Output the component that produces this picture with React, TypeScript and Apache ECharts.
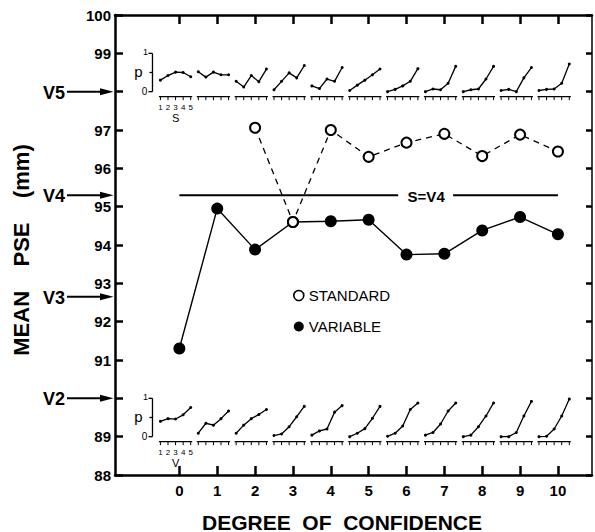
import React, { useEffect, useRef } from "react";
import * as echarts from "echarts";

// ---------- data ----------
const confidenceLevels = [0, 1, 2, 3, 4, 5, 6, 7, 8, 9, 10];
const hiddenYLabels = [90, 98];
const standardLevels = [2, 3, 4, 5, 6, 7, 8, 9, 10];
const standardPSE = [97.06, 94.6, 97.0, 96.3, 96.67, 96.9, 96.32, 96.88, 96.44];
const variablePSE = [91.3, 94.95, 93.88, 94.6, 94.62, 94.66, 93.75, 93.77, 94.38, 94.73, 94.28];
const referenceNames = ["V5", "V4", "V3", "V2"];
const referenceLevels = [98, 95.3, 92.65, 90];
const standardRefLabel = "S=V4";
const standardRefLevel = 95.3;
const stimulusSteps = [1, 2, 3, 4, 5];
const insetRowLetters = ["S", "V"];
const insetBaseLevels = [98, 89]; // p = 0 level of the inset rows (top: S, bottom: V)
const pLabels = ["p", "1", "0"];
// proportion curves, top row (standard stimuli S1..S5)
const standardCurves = [
  [0.3, 0.42, 0.51, 0.5, 0.39],
  [0.52, 0.38, 0.51, 0.44, 0.44],
  [0.27, 0.12, 0.42, 0.26, 0.59],
  [0.05, 0.27, 0.49, 0.36, 0.68],
  [0.15, 0.08, 0.33, 0.27, 0.63],
  [0.03, 0.17, 0.3, 0.44, 0.59],
  [0.0, 0.06, 0.15, 0.27, 0.6],
  [0.0, 0.07, 0.05, 0.22, 0.66],
  [0.0, 0.05, 0.07, 0.33, 0.66],
  [0.03, 0.06, 0.0, 0.36, 0.63],
  [0.03, 0.06, 0.07, 0.22, 0.72],
];
// proportion curves, bottom row (variable stimuli V1..V5)
const variableCurves = [
  [0.4, 0.47, 0.46, 0.57, 0.76],
  [0.09, 0.35, 0.3, 0.47, 0.67],
  [0.09, 0.3, 0.47, 0.58, 0.71],
  [0.03, 0.07, 0.26, 0.52, 0.79],
  [0.04, 0.15, 0.2, 0.64, 0.81],
  [0.0, 0.09, 0.21, 0.48, 0.79],
  [0.01, 0.09, 0.28, 0.71, 0.88],
  [0.04, 0.11, 0.33, 0.67, 0.88],
  [0.0, 0.04, 0.26, 0.54, 0.88],
  [0.0, 0.0, 0.11, 0.54, 0.92],
  [0.0, 0.01, 0.2, 0.54, 0.98],
];

// ---------- layout / style ----------
const FONT = '"Liberation Sans", Arial, Helvetica, sans-serif';
const X_MIN = -1.7;
const X_MAX = 10.9;
const STEP_W = 0.2;
const stepX = (c: number, s: number) => c + (s - 3.5) * STEP_W;
const BRACKET_X = -0.71;

function insetSeries(curves: number[][], base: number, tag: string) {
  return curves.map((vals, i) => ({
    type: "line",
    name: `${tag}-${i}`,
    data: vals.map((p, k) => [stepX(confidenceLevels[i], stimulusSteps[k]), base + p]),
    symbol: "circle",
    symbolSize: 3,
    itemStyle: { color: "#000" },
    lineStyle: { color: "#000", width: 1.3 },
    silent: true,
    z: 3,
  }));
}

export default function App() {
  const ref = useRef<HTMLDivElement>(null);
  useEffect(() => {
    document.body.style.margin = "0";
    const chart = echarts.init(ref.current!, undefined, { renderer: "svg" });

    const tickRowData: number[][] = [];
    insetBaseLevels.forEach((b, r) => confidenceLevels.forEach((c) => tickRowData.push([c, b, r])));

    const option: any = {
      animation: false,
      backgroundColor: "#fff",
      grid: { left: 115, right: 3, top: 15, bottom: 57 },
      legend: {
        orient: "vertical",
        left: 288,
        top: 283,
        itemWidth: 10,
        itemHeight: 10,
        itemGap: 16,
        selectedMode: false,
        textStyle: { fontSize: 15, fontFamily: FONT, color: "#000" },
        data: [
          { name: "STANDARD", icon: "circle", itemStyle: { color: "#fff", borderColor: "#000", borderWidth: 1.6 } },
          { name: "VARIABLE", icon: "circle", itemStyle: { color: "#000", borderWidth: 0 } },
        ],
      },
      xAxis: [
        {
          type: "value",
          position: "bottom",
          min: X_MIN,
          max: X_MAX,
          axisLine: { onZero: false, lineStyle: { color: "#000", width: 2.5 } },
          axisTick: { inside: true, length: 9, customValues: confidenceLevels, lineStyle: { color: "#000", width: 2.5 } },
          axisLabel: {
            customValues: confidenceLevels,
            color: "#000",
            fontSize: 15,
            fontWeight: "bold",
            fontFamily: FONT,
            margin: 8,
          },
          splitLine: { show: false },
        },
        {
          type: "value",
          position: "top",
          min: X_MIN,
          max: X_MAX,
          axisLine: { onZero: false, lineStyle: { color: "#000", width: 2.5 } },
          axisTick: { inside: true, length: 9, customValues: confidenceLevels, lineStyle: { color: "#000", width: 2.5 } },
          axisLabel: { show: false },
          splitLine: { show: false },
        },
      ],
      yAxis: [
        {
          type: "value",
          position: "left",
          min: 88,
          max: 100,
          interval: 1,
          axisLine: { show: true, onZero: false, lineStyle: { color: "#000", width: 2.5 } },
          axisTick: { show: true, inside: true, length: 8, lineStyle: { color: "#000", width: 2.5 } },
          axisLabel: {
            color: "#000",
            fontSize: 15,
            fontWeight: "bold",
            fontFamily: FONT,
            margin: 4,
            formatter: (v: number) => (hiddenYLabels.includes(v) ? "" : String(v)),
          },
          splitLine: { show: false },
        },
        {
          type: "value",
          position: "right",
          min: 88,
          max: 100,
          interval: 1,
          axisLine: { show: true, onZero: false, lineStyle: { color: "#000", width: 1.5 } },
          axisTick: { show: true, inside: true, length: 6, lineStyle: { color: "#000", width: 2.5 } },
          axisLabel: { show: false },
          splitLine: { show: false },
        },
      ],
      graphic: [
        {
          type: "text",
          x: 21,
          y: 250,
          rotation: Math.PI / 2,
          style: {
            text: "MEAN    PSE    (mm)",
            font: `bold 22px ${FONT}`,
            fill: "#000",
            align: "center",
            verticalAlign: "middle",
          },
        },
        {
          type: "text",
          x: 342,
          y: 522,
          style: {
            text: "DEGREE  OF  CONFIDENCE",
            font: `bold 21px ${FONT}`,
            fill: "#000",
            align: "center",
            verticalAlign: "middle",
          },
        },
      ],
      series: [
        ...insetSeries(standardCurves, insetBaseLevels[0], "s"),
        ...insetSeries(variableCurves, insetBaseLevels[1], "v"),
        {
          type: "custom",
          name: "tickrows",
          silent: true,
          clip: false,
          data: tickRowData,
          renderItem: (params: any, api: any) => {
            const c = api.value(0);
            const base = api.value(1);
            const row = api.value(2);
            const pts = stimulusSteps.map((s) => api.coord([stepX(c, s), base]));
            const y = pts[0][1] + 5;
            const children: any[] = [
              {
                type: "line",
                shape: { x1: pts[0][0] - 1.5, y1: y, x2: pts[4][0] + 1.5, y2: y },
                style: { stroke: "#000", lineWidth: 1.3 },
              },
            ];
            pts.forEach((p: number[]) =>
              children.push({
                type: "line",
                shape: { x1: p[0], y1: y, x2: p[0], y2: y + 3.5 },
                style: { stroke: "#000", lineWidth: 1 },
              })
            );
            if (c === confidenceLevels[0]) {
              pts.forEach((p: number[], k: number) =>
                children.push({
                  type: "text",
                  style: {
                    text: String(stimulusSteps[k]),
                    x: p[0],
                    y: y + 10.5,
                    font: `8px ${FONT}`,
                    fill: "#000",
                    align: "center",
                    verticalAlign: "middle",
                  },
                })
              );
              children.push({
                type: "text",
                style: {
                  text: insetRowLetters[row],
                  x: pts[2][0],
                  y: y + 21,
                  font: `11px ${FONT}`,
                  fill: "#000",
                  align: "center",
                  verticalAlign: "middle",
                },
              });
            }
            return { type: "group", children };
          },
        },
        {
          type: "custom",
          name: "brackets",
          silent: true,
          clip: false,
          data: insetBaseLevels.map((b) => [BRACKET_X, b]),
          renderItem: (params: any, api: any) => {
            const b = api.value(1);
            const p0 = api.coord([BRACKET_X, b]);
            const p1 = api.coord([BRACKET_X, b + 1]);
            const pm = [p0[0], (p0[1] + p1[1]) / 2];
            const st = { stroke: "#000", lineWidth: 1.3 };
            const tx = (t: string, x: number, y: number, f: string) => ({
              type: "text",
              style: { text: t, x, y, font: f, fill: "#000", align: "center", verticalAlign: "middle" },
            });
            return {
              type: "group",
              children: [
                { type: "line", shape: { x1: p0[0], y1: p0[1], x2: p1[0], y2: p1[1] }, style: st },
                { type: "line", shape: { x1: p0[0] - 4, y1: p0[1], x2: p0[0], y2: p0[1] }, style: st },
                { type: "line", shape: { x1: p1[0] - 4, y1: p1[1], x2: p1[0], y2: p1[1] }, style: st },
                { type: "line", shape: { x1: pm[0] - 3, y1: pm[1], x2: pm[0], y2: pm[1] }, style: st },
                tx(pLabels[0], p0[0] - 14, pm[1] - 1, `15px ${FONT}`),
                tx(pLabels[1], p1[0] - 7, p1[1] - 1, `9px ${FONT}`),
                tx(pLabels[2], p0[0] - 8, p0[1], `10px ${FONT}`),
              ],
            };
          },
        },
        {
          type: "custom",
          name: "refArrows",
          silent: true,
          clip: false,
          data: referenceLevels.map((v, i) => [X_MIN, v, i]),
          renderItem: (params: any, api: any) => {
            const p = api.coord([api.value(0), api.value(1)]);
            const i = api.value(2);
            const ax = p[0];
            const y = p[1];
            return {
              type: "group",
              children: [
                { type: "line", shape: { x1: ax - 48, y1: y, x2: ax - 12, y2: y }, style: { stroke: "#000", lineWidth: 2 } },
                {
                  type: "polygon",
                  shape: { points: [[ax - 1.5, y], [ax - 15, y - 3.5], [ax - 15, y + 3.5]] },
                  style: { fill: "#000" },
                },
                {
                  type: "text",
                  style: {
                    text: referenceNames[i],
                    x: ax - 50,
                    y: y + 1,
                    font: `bold 18px ${FONT}`,
                    fill: "#000",
                    align: "right",
                    verticalAlign: "middle",
                  },
                },
              ],
            };
          },
        },
        {
          type: "line",
          name: "sref1",
          data: [[confidenceLevels[0], standardRefLevel], [5.78, standardRefLevel]],
          symbol: "none",
          lineStyle: { color: "#000", width: 2 },
          silent: true,
        },
        {
          type: "line",
          name: "sref2",
          data: [[7.23, standardRefLevel], [confidenceLevels[confidenceLevels.length - 1], standardRefLevel]],
          symbol: "none",
          lineStyle: { color: "#000", width: 2 },
          silent: true,
        },
        {
          type: "custom",
          name: "srefLabel",
          silent: true,
          clip: false,
          data: [[6.52, standardRefLevel]],
          renderItem: (params: any, api: any) => {
            const p = api.coord([api.value(0), api.value(1)]);
            return {
              type: "text",
              style: {
                text: standardRefLabel,
                x: p[0],
                y: p[1] + 1,
                font: `bold 15px ${FONT}`,
                fill: "#000",
                align: "center",
                verticalAlign: "middle",
              },
            };
          },
        },
        {
          type: "line",
          name: "VARIABLE",
          data: confidenceLevels.map((c, i) => [c, variablePSE[i]]),
          symbol: "circle",
          symbolSize: 12,
          itemStyle: { color: "#000" },
          lineStyle: { color: "#000", width: 1.4 },
          z: 4,
        },
        {
          type: "line",
          name: "STANDARD",
          data: standardLevels.map((c, i) => [c, standardPSE[i]]),
          symbol: "emptyCircle",
          symbolSize: 10,
          itemStyle: { color: "#000", borderColor: "#000", borderWidth: 1.8 },
          lineStyle: { color: "#000", width: 1.3, type: [6, 5] },
          z: 5,
        },
      ],
    };
    chart.setOption(option);
    return () => chart.dispose();
  }, []);
  return <div ref={ref} style={{ position: "fixed", left: 0, top: 0, width: 595, height: 532 }} />;
}
